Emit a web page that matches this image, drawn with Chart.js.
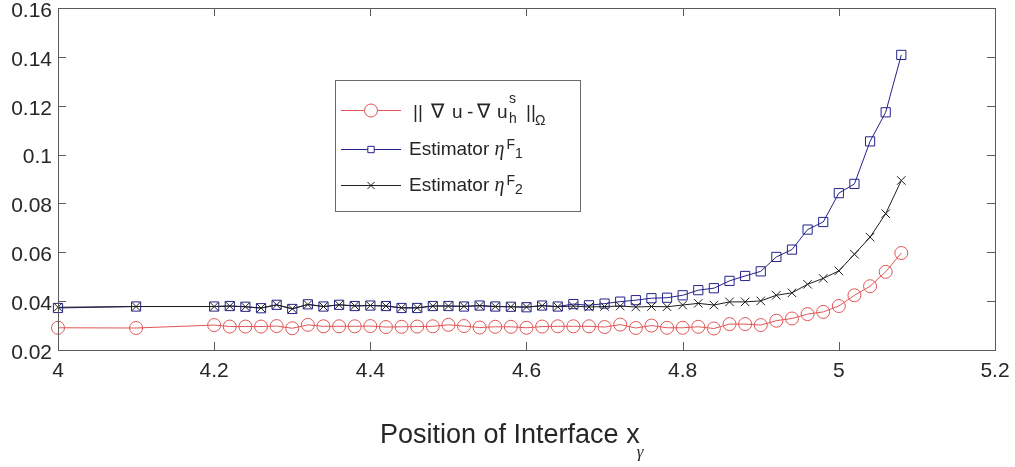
<!DOCTYPE html>
<html lang="en">
<head>
  <meta charset="UTF-8">
  <title>Error and estimators vs interface position</title>
  <script src="https://cdn.jsdelivr.net/npm/chart.js"></script>
  <style>
    html, body { margin: 0; padding: 0; background: #fff; }
    #chart { display: block; }
  </style>
</head>
<body>
  <canvas id="chart" width="1015" height="467"></canvas>

  <script>
    // interface positions
    const xPos = [4, 4.1, 4.2, 4.22, 4.24, 4.26, 4.28, 4.3, 4.32, 4.34, 4.36, 4.38, 4.4, 4.42, 4.44, 4.46,
      4.48, 4.5, 4.52, 4.54, 4.56, 4.58, 4.6, 4.62, 4.64, 4.66, 4.68, 4.7, 4.72, 4.74, 4.76, 4.78,
      4.8, 4.82, 4.84, 4.86, 4.88, 4.9, 4.92, 4.94, 4.96, 4.98, 5, 5.02, 5.04, 5.06, 5.08];

    // || grad u - grad u_h^s ||
    const errorNorm = [0.0291, 0.0290, 0.0302, 0.0296, 0.0296, 0.0296, 0.0298, 0.0289, 0.0303, 0.0297, 0.0297, 0.0297, 0.0298, 0.0294, 0.0295, 0.0296,
      0.0297, 0.0303, 0.0298, 0.0292, 0.0295, 0.0295, 0.0291, 0.0296, 0.0297, 0.0297, 0.0297, 0.0294, 0.0304, 0.0290, 0.0300, 0.0291,
      0.0291, 0.0295, 0.0288, 0.0306, 0.0306, 0.0302, 0.0320, 0.0329, 0.0347, 0.0356, 0.0380, 0.0424, 0.0461, 0.0520, 0.0597];

    // estimator eta^F_1
    const estF1 = [0.0372, 0.0378, 0.0378, 0.0380, 0.0377, 0.0371, 0.0385, 0.0368, 0.0387, 0.0378, 0.0385, 0.0380, 0.0382, 0.0380, 0.0372, 0.0372,
      0.0380, 0.0380, 0.0378, 0.0382, 0.0378, 0.0377, 0.0375, 0.0382, 0.0378, 0.0388, 0.0383, 0.0390, 0.0398, 0.0404, 0.0412, 0.0414,
      0.0424, 0.0445, 0.0453, 0.0483, 0.0503, 0.0522, 0.0581, 0.0611, 0.0693, 0.0724, 0.0842, 0.0880, 0.1054, 0.1173, 0.1408];

    // estimator eta^F_2
    const estF2 = [0.0375, 0.0378, 0.0378, 0.0380, 0.0377, 0.0372, 0.0385, 0.0369, 0.0386, 0.0378, 0.0385, 0.0381, 0.0382, 0.0380, 0.0373, 0.0373,
      0.0380, 0.0380, 0.0379, 0.0381, 0.0378, 0.0377, 0.0376, 0.0381, 0.0377, 0.0380, 0.0376, 0.0378, 0.0380, 0.0376, 0.0378, 0.0377,
      0.0384, 0.0391, 0.0384, 0.0397, 0.0397, 0.0401, 0.0424, 0.0434, 0.0469, 0.0493, 0.0524, 0.0592, 0.0662, 0.0758, 0.0894];

    const xTickStep = 0.2;
    const yTickStep = 0.02;

    const RED = "#e05555";
    const BLUE = "#23238c";
    const BLACK = "#1e1e1e";
    const TEXT = "#262626";
    const FONT = "'Liberation Sans', Arial, 'DejaVu Sans', sans-serif";
    const SERIF_IT = "'Liberation Serif', 'DejaVu Serif', serif";

    function toPoints(values) {
      return xPos.map((x, i) => ({ x: x, y: values[i] }));
    }

    // draws a run of text pieces (normal / superscript / subscript)
    function drawRich(ctx, x, y, parts) {
      parts.forEach(p => {
        ctx.font = p.font;
        if (p.at !== undefined) x = p.at;
        ctx.fillText(p.t, x, y + (p.dy || 0));
        if (!p.stack) x += ctx.measureText(p.t).width + (p.gap || 0);
      });
      return x;
    }

    const matlabAxes = {
      id: "matlabAxes",
      afterDraw(chart) {
        const ctx = chart.ctx;
        const a = chart.chartArea;
        const sx = chart.scales.x, sy = chart.scales.y;
        ctx.save();

        // box + inward ticks on all four sides
        ctx.strokeStyle = "#5a5a5a";
        ctx.lineWidth = 1;
        ctx.strokeRect(Math.round(a.left) + 0.5, Math.round(a.top) + 0.5,
          Math.round(a.right - a.left), Math.round(a.bottom - a.top));
        const tl = 8;
        ctx.beginPath();
        sx.ticks.forEach(t => {
          const px = Math.round(sx.getPixelForValue(t.value)) + 0.5;
          ctx.moveTo(px, a.bottom); ctx.lineTo(px, a.bottom - tl);
          ctx.moveTo(px, a.top); ctx.lineTo(px, a.top + tl);
        });
        sy.ticks.forEach(t => {
          const py = Math.round(sy.getPixelForValue(t.value)) + 0.5;
          ctx.moveTo(a.left, py); ctx.lineTo(a.left + tl, py);
          ctx.moveTo(a.right, py); ctx.lineTo(a.right - tl, py);
        });
        ctx.stroke();

        // x axis title with subscript gamma
        ctx.fillStyle = TEXT;
        ctx.textBaseline = "alphabetic";
        ctx.textAlign = "left";
        drawRich(ctx, 380, 443, [
          { t: "Position of Interface x", font: "27px " + FONT, gap: -3 },
          { t: "\u03B3", font: "italic 17px " + SERIF_IT, dy: 14 }
        ]);

        // legend
        const bx = 335, by = 80, bw = 245, bh = 131;
        ctx.fillStyle = "#fff";
        ctx.fillRect(bx, by, bw, bh);
        ctx.strokeStyle = "#6a6a6a";
        ctx.strokeRect(bx + 0.5, by + 0.5, bw, bh);

        const ds = chart.data.datasets;
        const rows = [118, 155, 191];
        const lines = [110, 149, 185];
        const lx0 = 341, lx1 = 401, lmid = 371;
        lines.forEach((ly, i) => {
          const d = ds[i];
          ctx.strokeStyle = d.borderColor;
          ctx.lineWidth = 1;
          ctx.beginPath();
          ctx.moveTo(lx0, ly + 0.5); ctx.lineTo(lx1, ly + 0.5);
          ctx.stroke();
          Chart.helpers.drawPoint(ctx, {
            pointStyle: d.pointStyle, rotation: 0, borderWidth: 1,
            radius: d.legendRadius
          }, lmid, ly + 0.5);
        });

        const base = "19px " + FONT;
        const nabla = "20px " + FONT;
        const small = "14px " + FONT;
        const eta = "italic 20px " + SERIF_IT;
        ctx.fillStyle = TEXT;
        drawRich(ctx, 413, rows[0], [
          { t: "||", font: base, at: 413 },
          { t: "\u2207", font: nabla, at: 431 },
          { t: "u", font: base, at: 452 },
          { t: "-", font: base, at: 467 },
          { t: "\u2207", font: nabla, at: 477 },
          { t: "u", font: base, at: 497 },
          { t: "s", font: small, dy: -15, at: 509, stack: true },
          { t: "h", font: small, dy: 5, at: 509 },
          { t: "||", font: base, at: 526 },
          { t: "\u03A9", font: small, dy: 7, at: 535 }
        ]);
        [1, 2].forEach(k => {
          drawRich(ctx, 409, rows[k], [
            { t: "Estimator ", font: base },
            { t: "\u03B7", font: eta, gap: 2 },
            { t: "F", font: small, dy: -6 },
            { t: String(k), font: small, dy: 3 }
          ]);
        });

        ctx.restore();
      }
    };

    const ctx = document.getElementById("chart").getContext("2d");
    new Chart(ctx, {
      type: "line",
      data: {
        datasets: [
          {
            label: "|| \u2207 u - \u2207 u_h^s ||_\u03A9",
            data: toPoints(errorNorm),
            borderColor: RED, borderWidth: 1,
            pointStyle: "circle", pointRadius: 6.5, legendRadius: 6.5,
            pointBorderColor: RED, pointBackgroundColor: "rgba(0,0,0,0)", pointBorderWidth: 1,
            clip: false, order: 3
          },
          {
            label: "Estimator \u03B7^F_1",
            data: toPoints(estF1),
            borderColor: BLUE, borderWidth: 1,
            pointStyle: "rect", pointRadius: 6.5, legendRadius: 4.5,
            pointBorderColor: BLUE, pointBackgroundColor: "rgba(0,0,0,0)", pointBorderWidth: 1,
            clip: false, order: 2
          },
          {
            label: "Estimator \u03B7^F_2",
            data: toPoints(estF2),
            borderColor: BLACK, borderWidth: 1,
            pointStyle: "crossRot", pointRadius: 6, legendRadius: 5,
            pointBorderColor: BLACK, pointBackgroundColor: "rgba(0,0,0,0)", pointBorderWidth: 1,
            clip: false, order: 1
          }
        ]
      },
      options: {
        responsive: false,
        animation: false,
        events: [],
        layout: { padding: { top: 8, right: 20, left: 0, bottom: 0 } },
        plugins: { legend: { display: false }, tooltip: { enabled: false } },
        scales: {
          x: {
            type: "linear", min: 4, max: 5.2,
            grid: { display: false, drawTicks: false },
            border: { display: false },
            ticks: {
              stepSize: xTickStep, padding: 9, color: TEXT,
              font: { family: FONT, size: 21 },
              maxRotation: 0,
              callback: v => parseFloat(v.toFixed(2))
            },
            afterFit: s => { s.height = 117; s.paddingLeft = 0; s.paddingRight = 0; }
          },
          y: {
            type: "linear", min: 0.02, max: 0.16,
            grid: { display: false, drawTicks: false },
            border: { display: false },
            ticks: {
              stepSize: yTickStep, padding: 6, color: TEXT, labelOffset: 3,
              font: { family: FONT, size: 21 },
              callback: v => parseFloat(v.toFixed(2))
            },
            afterFit: s => { s.width = 58; s.paddingTop = 0; s.paddingBottom = 0; }
          }
        }
      },
      plugins: [matlabAxes]
    });
  </script>
</body>
</html>
